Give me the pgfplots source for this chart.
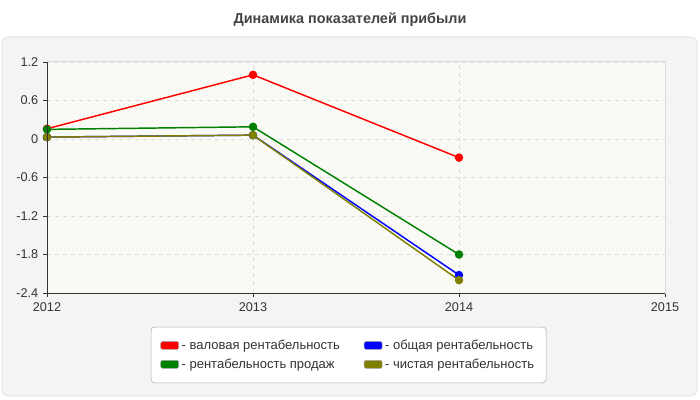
\documentclass[border=0pt]{standalone}
\usepackage{fontspec}
\setmainfont{Liberation Sans}
\usepackage{pgfplots}
\pgfplotsset{compat=1.18}
\usetikzlibrary{patterns}
\definecolor{panel}{HTML}{F4F4F4}
\definecolor{panelborder}{HTML}{DDDDDD}
\definecolor{bgyellow}{HTML}{FDFDF7}
\definecolor{gridgray}{HTML}{DDDDDD}
\definecolor{axisdark}{HTML}{333333}
\definecolor{textgray}{HTML}{333333}
\definecolor{titlegray}{HTML}{444444}
\definecolor{legendborder}{HTML}{AAAAAA}
\definecolor{sred}{HTML}{FF0000}
\definecolor{sblue}{HTML}{0000FF}
\definecolor{sgreen}{HTML}{008000}
\definecolor{solive}{HTML}{808000}
\begin{document}
\begin{tikzpicture}[x=0.75pt,y=0.75pt]
\path[use as bounding box, fill=white] (0,0) rectangle (700,400);
\draw[fill=panel, draw=panelborder, rounded corners=4pt] (2,4) rectangle (697,363);
\node[font=\bfseries\fontsize{10.8}{12}\selectfont, color=titlegray] at (350,380) {Динамика показателей прибыли};
\begin{axis}[
  at={(35.25pt,80.25pt)}, anchor=south west,
  scale only axis, width=463.5pt, height=173.25pt,
  xmin=2012, xmax=2015, ymin=-2.4, ymax=1.2,
  xtick={2012,2013,2014,2015},
  xticklabels={2012,2013,2014,2015},
  ytick={-2.4,-1.8,-1.2,-0.6,0,0.6,1.2},
  yticklabels={-2.4,-1.8,-1.2,-0.6,0,0.6,1.2},
  xtick pos=bottom, ytick pos=left,
  tick align=outside, major tick length=3pt,
  tick style={color=axisdark, line width=0.6pt},
  grid=major, grid style={dashed, color=gridgray, line width=0.5pt},
  axis line style={color=gridgray, line width=0.75pt},
  ticklabel style={font=\fontsize{9.5}{10}\selectfont, color=textgray},
  xticklabel style={yshift=-1pt},
  axis background/.style={fill=bgyellow, postaction={pattern=north west lines, pattern color=black!5}},
  after end axis/.code={\draw[color=axisdark, line width=0.75pt] (rel axis cs:0,1) -- (rel axis cs:0,0) -- (rel axis cs:1,0);},
  legend columns=2,
  legend style={at={(0.488,-0.268)}, anchor=center, draw=legendborder, fill=white!98!panel, rounded corners=2.5pt,
    font=\fontsize{9.75}{11}\selectfont, text=textgray, inner xsep=7pt, inner ysep=7.5pt, row sep=1.5pt,
    /tikz/every even column/.append style={column sep=16pt}},
  legend cell align=left,
  legend image code/.code={\draw[#1, fill, draw=gray!70, line width=0.4pt, rounded corners=1.5pt] (0pt,-3pt) rectangle (13.5pt,3pt);},
  every axis plot/.append style={line width=1.1pt, mark=*, mark size=2.6pt},
]
\addplot[color=sred] coordinates {(2012,0.16) (2013,1.00) (2014,-0.29)};
\addlegendentry{- валовая рентабельность}
\addplot[color=sblue] coordinates {(2012,0.03) (2013,0.06) (2014,-2.12)};
\addlegendentry{- общая рентабельность}
\addplot[color=sgreen] coordinates {(2012,0.15) (2013,0.19) (2014,-1.80)};
\addlegendentry{- рентабельность продаж}
\addplot[color=solive] coordinates {(2012,0.03) (2013,0.06) (2014,-2.20)};
\addlegendentry{- чистая рентабельность}
\end{axis}
\end{tikzpicture}
\end{document}
